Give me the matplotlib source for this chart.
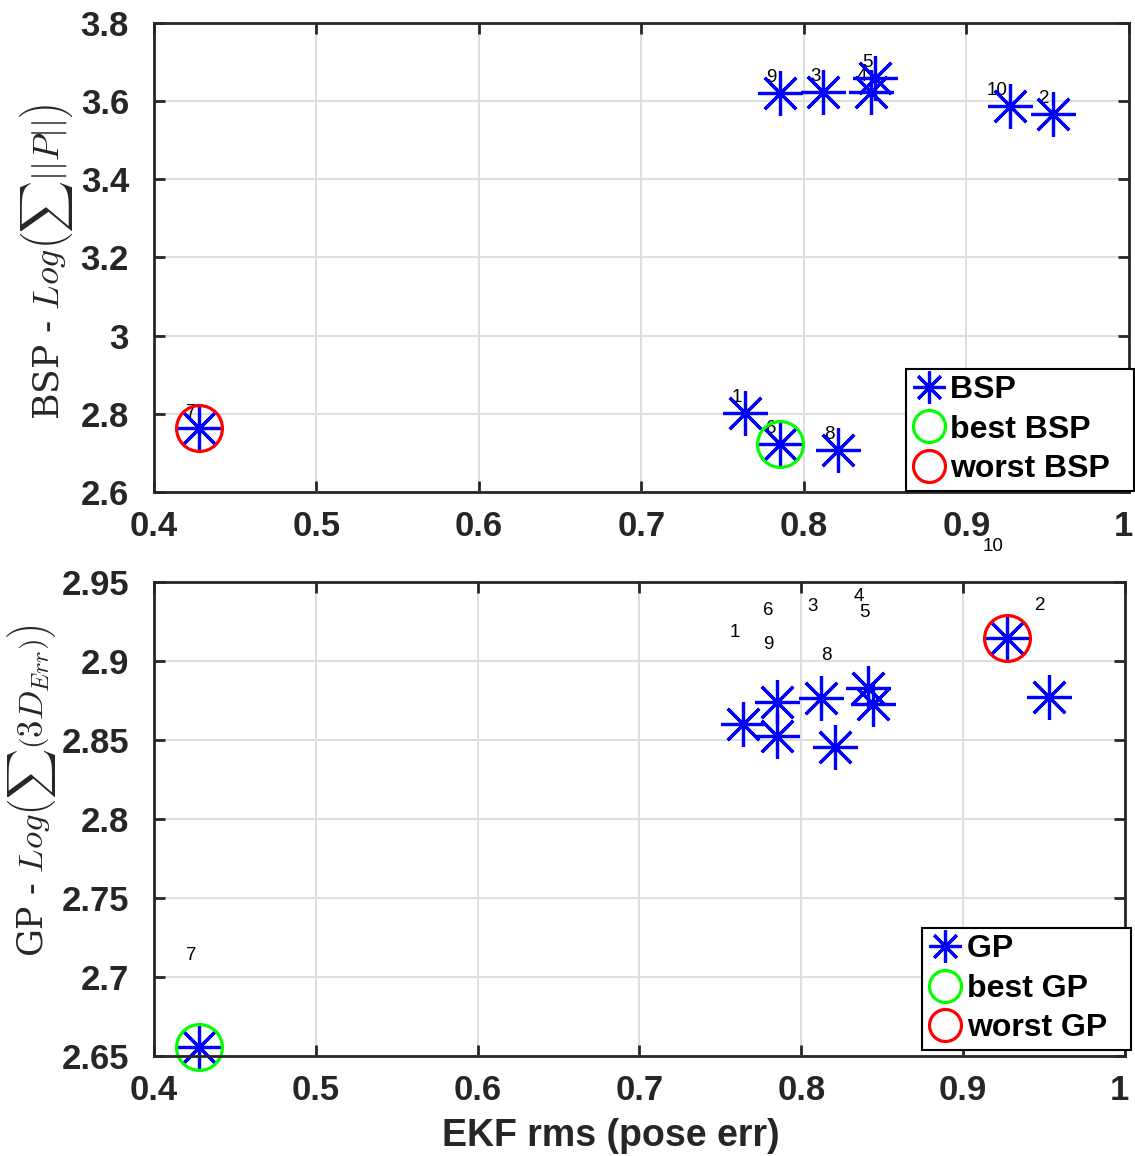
import numpy as np
import matplotlib
matplotlib.use("Agg")
import matplotlib.pyplot as plt
import matplotlib.transforms as mtrans
from matplotlib.lines import Line2D

plt.rcParams['font.family'] = ['Liberation Sans', 'DejaVu Sans']
plt.rcParams['mathtext.fontset'] = 'cm'

# trajectory ids and their scores
traj_ids = [1, 2, 3, 4, 5, 6, 7, 8, 9, 10]
ekf_rms = [0.764, 0.953, 0.812, 0.841, 0.844, 0.785, 0.428, 0.821, 0.785, 0.927]
bsp_cost = [2.802, 3.567, 3.623, 3.623, 3.659, 2.723, 2.764, 2.708, 3.620, 3.587]
gp_cost = [2.860, 2.877, 2.8766, 2.883, 2.873, 2.874, 2.6557, 2.8456, 2.8525, 2.9146]

best_bsp, worst_bsp = 6, 7
best_gp, worst_gp = 7, 10

x_ticks = [0.4, 0.5, 0.6, 0.7, 0.8, 0.9, 1.0]
x_tick_labels = ['0.4', '0.5', '0.6', '0.7', '0.8', '0.9', '1']
bsp_ticks = [2.6, 2.8, 3.0, 3.2, 3.4, 3.6, 3.8]
bsp_tick_labels = ['2.6', '2.8', '3', '3.2', '3.4', '3.6', '3.8']
gp_ticks = [2.65, 2.7, 2.75, 2.8, 2.85, 2.9, 2.95]
gp_tick_labels = ['2.65', '2.7', '2.75', '2.8', '2.85', '2.9', '2.95']

DARK = '#262626'
W, H = 1135, 1156


def draw_panel(fig, ax, yvals, best, worst, name, yticks, ylabels, label_dy, ylabel,
               ylabel_size, ylabel_xy, leg_anchor):
    ax.set_axisbelow(True)
    ax.grid(True, color='#dedede', linewidth=1.4)
    ax.plot(ekf_rms, yvals, linestyle='none', marker=(8, 2, 0), markersize=32,
            markeredgewidth=2.3, color='blue', zorder=2, clip_on=False)
    for i, (x, y) in enumerate(zip(ekf_rms, yvals)):
        ax.text(x - 0.002, y + label_dy, str(traj_ids[i]), ha='right', va='center',
                fontsize=13.5, color='black', zorder=1.8)
    for idx, col in [(best, '#00ff00'), (worst, 'red')]:
        ax.plot(ekf_rms[idx - 1], yvals[idx - 1], linestyle='none', marker='o',
                markersize=33, markerfacecolor='none', markeredgecolor=col,
                markeredgewidth=2.3, zorder=2.1, clip_on=False)

    ax.set_xlim(0.4, 1.0)
    ax.set_ylim(yticks[0], yticks[-1])
    ax.set_xticks(x_ticks)
    ax.set_xticklabels(x_tick_labels)
    ax.set_yticks(yticks)
    ax.set_yticklabels(ylabels)
    ax.tick_params(direction='in', length=8, width=2, colors=DARK,
                   top=True, right=True, labelsize=25)
    ax.tick_params(axis='x', pad=13)
    ax.tick_params(axis='y', pad=18)
    for lab in ax.get_xticklabels() + ax.get_yticklabels():
        lab.set_fontweight('bold')
    # last x label "1" sits a bit inside the right edge
    last = ax.xaxis.get_major_ticks()[-1].label1
    last.set_transform(last.get_transform() +
                       mtrans.ScaledTranslation(-4 / 72, 0, fig.dpi_scale_trans))
    for sp in ax.spines.values():
        sp.set_linewidth(2)
        sp.set_color(DARK)
    ax.set_ylabel(ylabel, fontsize=ylabel_size, family='DejaVu Serif', color=DARK)
    ax.yaxis.set_label_coords(*ylabel_xy)

    handles = [
        Line2D([], [], linestyle='none', marker=(8, 2, 0), markersize=23,
               markeredgewidth=2.3, color='blue'),
        Line2D([], [], linestyle='none', marker='o', markersize=23,
               markerfacecolor='none', markeredgecolor='#00ff00', markeredgewidth=2.3),
        Line2D([], [], linestyle='none', marker='o', markersize=23,
               markerfacecolor='none', markeredgecolor='red', markeredgewidth=2.3),
    ]
    labels = [name, 'best ' + name, 'worst ' + name]
    leg = ax.legend(handles, [s + '  ' for s in labels],
                    loc='lower right', bbox_to_anchor=leg_anchor, borderaxespad=0,
                    prop={'weight': 'bold', 'size': 23}, handlelength=1.05,
                    handletextpad=0.15, borderpad=0.2, labelspacing=0.3,
                    fancybox=False, framealpha=1, edgecolor='black')
    leg.get_frame().set_linewidth(1.5)
    return ax


fig = plt.figure(figsize=(W / 100, H / 100), dpi=100)
ax1 = fig.add_axes([154 / W, 1 - 492 / H, 975 / W, 469 / H])
ax2 = fig.add_axes([154 / W, 1 - 1056 / H, 971 / W, 474 / H])

draw_panel(fig, ax1, bsp_cost, best_bsp, worst_bsp, 'BSP', bsp_ticks, bsp_tick_labels,
           0.04, r'BSP - $Log\left(\sum||P||\right)$', 26, (-0.081, 0.49),
           (1.005, 0.003))
draw_panel(fig, ax2, gp_cost, best_gp, worst_gp, 'GP', gp_ticks, gp_tick_labels,
           0.058, r'GP - $Log\left(\sum\left(3D_{Err}\right)\right)$', 25,
           (-0.099, 0.56), (1.006, 0.013))

ax2.set_xlabel('EKF rms (pose err)', fontsize=27, fontweight='bold', color=DARK,
               x=0.47, labelpad=8)

fig.savefig('out.png', dpi=100)
